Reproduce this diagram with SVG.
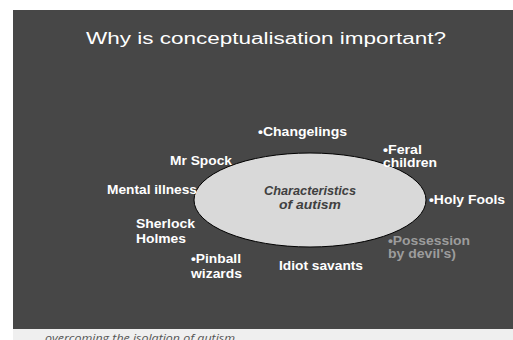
<svg xmlns="http://www.w3.org/2000/svg" width="513" height="340" viewBox="0 0 513 340">
<style>
.lbl{font-family:"Liberation Sans",Arial,sans-serif;font-weight:bold;font-size:12px;fill:#ffffff}
.grey{fill:#9c9c9c}
.ctr{font-family:"Liberation Sans",Arial,sans-serif;font-weight:bold;font-style:italic;font-size:12.5px;fill:#404040}
</style>
<rect x="0" y="0" width="513" height="340" fill="#ffffff"/>
<rect x="13" y="329" width="500" height="11" fill="#efefef"/>
<rect x="13" y="10" width="500" height="319" fill="#474747"/>
<text x="45" y="342" font-family="'Open Sans',sans-serif" font-style="italic" font-size="11" fill="#555555" textLength="190" lengthAdjust="spacingAndGlyphs">overcoming the isolation of autism</text>
<text x="86" y="44" font-family="'Liberation Sans',Arial,sans-serif" font-size="16" fill="#ffffff" textLength="360" lengthAdjust="spacingAndGlyphs">Why is conceptualisation important?</text>
<g id="center">
<ellipse cx="310" cy="200" rx="116" ry="47" fill="#d9d9d9" stroke="#000000" stroke-width="1"/>
<text class="ctr" x="310" y="195" text-anchor="middle" textLength="92" lengthAdjust="spacingAndGlyphs">Characteristics</text>
<text class="ctr" x="310" y="209" text-anchor="middle" textLength="62" lengthAdjust="spacingAndGlyphs">of autism</text>
</g>
<g id="changelings"><text class="lbl" x="258" y="136" textLength="89" lengthAdjust="spacingAndGlyphs">•Changelings</text></g>
<g id="mrspock"><text class="lbl" x="170" y="165" textLength="62" lengthAdjust="spacingAndGlyphs">Mr Spock</text></g>
<g id="mental"><text class="lbl" x="107" y="194" textLength="90" lengthAdjust="spacingAndGlyphs">Mental illness</text></g>
<g id="sherlock"><text class="lbl" x="136" y="228" textLength="59" lengthAdjust="spacingAndGlyphs">Sherlock</text><text class="lbl" x="136" y="243" textLength="50" lengthAdjust="spacingAndGlyphs">Holmes</text></g>
<g id="feral"><text class="lbl" x="383" y="154" textLength="39" lengthAdjust="spacingAndGlyphs">•Feral</text><text class="lbl" x="383" y="167" textLength="54" lengthAdjust="spacingAndGlyphs">children</text></g>
<g id="holyfools"><text class="lbl" x="429" y="204" textLength="76" lengthAdjust="spacingAndGlyphs">•Holy Fools</text></g>
<g id="possession"><text class="lbl grey" x="388" y="245" textLength="82" lengthAdjust="spacingAndGlyphs">•Possession</text><text class="lbl grey" x="388" y="258" textLength="68" lengthAdjust="spacingAndGlyphs">by devil's)</text></g>
<g id="pinball"><text class="lbl" x="191" y="263" textLength="50" lengthAdjust="spacingAndGlyphs">•Pinball</text><text class="lbl" x="191" y="278" textLength="51" lengthAdjust="spacingAndGlyphs">wizards</text></g>
<g id="idiot"><text class="lbl" x="279" y="270" textLength="84" lengthAdjust="spacingAndGlyphs">Idiot savants</text></g>
<g id="connectors"></g>
</svg>
